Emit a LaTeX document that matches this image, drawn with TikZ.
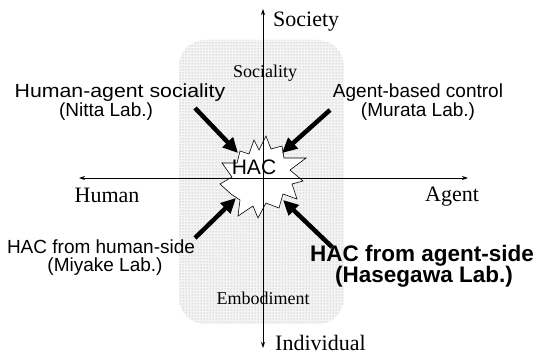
\documentclass[tikz,border=0pt]{standalone}
\usepackage{fontspec}
\setmainfont{Liberation Serif}
\newfontfamily\arialf{Liberation Sans}
\usetikzlibrary{arrows.meta,patterns}
\begin{document}
\begin{tikzpicture}[x=1pt,y=-1pt,
  serifbig/.style={font=\fontsize{22}{24}\selectfont, inner sep=0pt, anchor=base},
  serifsmall/.style={font=\fontsize{18}{20}\selectfont, inner sep=0pt, anchor=base},
  labtext/.style={font=\arialf\fontsize{19}{21}\selectfont, inner sep=0pt, anchor=base},
  labbold/.style={font=\arialf\bfseries\fontsize{22.5}{24}\selectfont, inner sep=0pt, anchor=base},
  axis/.style={line width=0.9pt, {Stealth[length=6pt,width=4pt]}-{Stealth[length=6pt,width=4pt]}},
  bigarrow/.style={line width=4.5pt, -{Triangle[length=15pt,width=14pt]}}]
\useasboundingbox (0,0) rectangle (540,355);
% shaded region
\fill[gray!9, rounded corners=26pt] (179,40) rectangle (344,324);
\fill[pattern=dots, pattern color=gray!75, rounded corners=26pt] (179,40) rectangle (344,324);
% star
\filldraw[fill=white, draw=black, line width=0.6pt]
 (240,151) -- (249,154) -- (254,140) -- (259,150) -- (266,136) -- (271,149) -- (282,146) -- (284,158)
 -- (306,158) -- (290,170) -- (303,181) -- (292,184) -- (297,199) -- (283,194) -- (279,208) -- (266,203)
 -- (258,218) -- (253,206) -- (238,216) -- (240,200) -- (231,194) -- (220,184) -- (232,177) -- (222,163)
 -- (237,163) -- cycle;
% axes
\coordinate (top) at (263,9);
\coordinate (bot) at (263,348);
\coordinate (lft) at (79,178);
\coordinate (rgt) at (468,178);
\draw[axis] (bot) -- (top);
\draw[axis] (lft) -- (rgt);
% axis labels
\node[serifbig, anchor=base west] (soc) at (273,27) {Society};
\node[serifbig, anchor=base west] (ind) at (275,350) {Individual};
\node[serifbig] (hum) at (107,203) {Human};
\node[serifbig] (agt) at (452,202) {Agent};
\node[serifsmall] (socy) at (265,78) {Sociality};
\node[serifsmall] (emb) at (263,304) {Embodiment};
% HAC
\node[font=\arialf\fontsize{21}{23}\selectfont, inner sep=0pt, anchor=base] (hac) at (254,175) {HAC};
% lab labels
\node[labtext] (l1a) at (120,98) {\scalebox{1.12}[1]{Human-agent sociality}};
\node[labtext] (l1b) at (106,117) {(Nitta Lab.)};
\node[labtext] (l2a) at (418,98) {Agent-based control};
\node[labtext] (l2b) at (418,117) {(Murata Lab.)};
\node[labtext] (l3a) at (101,253) {HAC from human-side};
\node[labtext] (l3b) at (105,271) {(Miyake Lab.)};
\node[labbold] (l4a) at (422,261) {HAC from agent-side};
\node[labbold] (l4b) at (424,282) {(Hasegawa Lab.)};
% arrows
\coordinate (a1s) at (195,108); \coordinate (a1t) at (238,153);
\coordinate (a2s) at (330,110); \coordinate (a2t) at (282,153);
\coordinate (a3s) at (195,238); \coordinate (a3t) at (236,198);
\coordinate (a4s) at (332,247); \coordinate (a4t) at (283,200);
\draw[bigarrow] (a1s) -- (a1t);
\draw[bigarrow] (a2s) -- (a2t);
\draw[bigarrow] (a3s) -- (a3t);
\draw[bigarrow] (a4s) -- (a4t);
\end{tikzpicture}
\end{document}
